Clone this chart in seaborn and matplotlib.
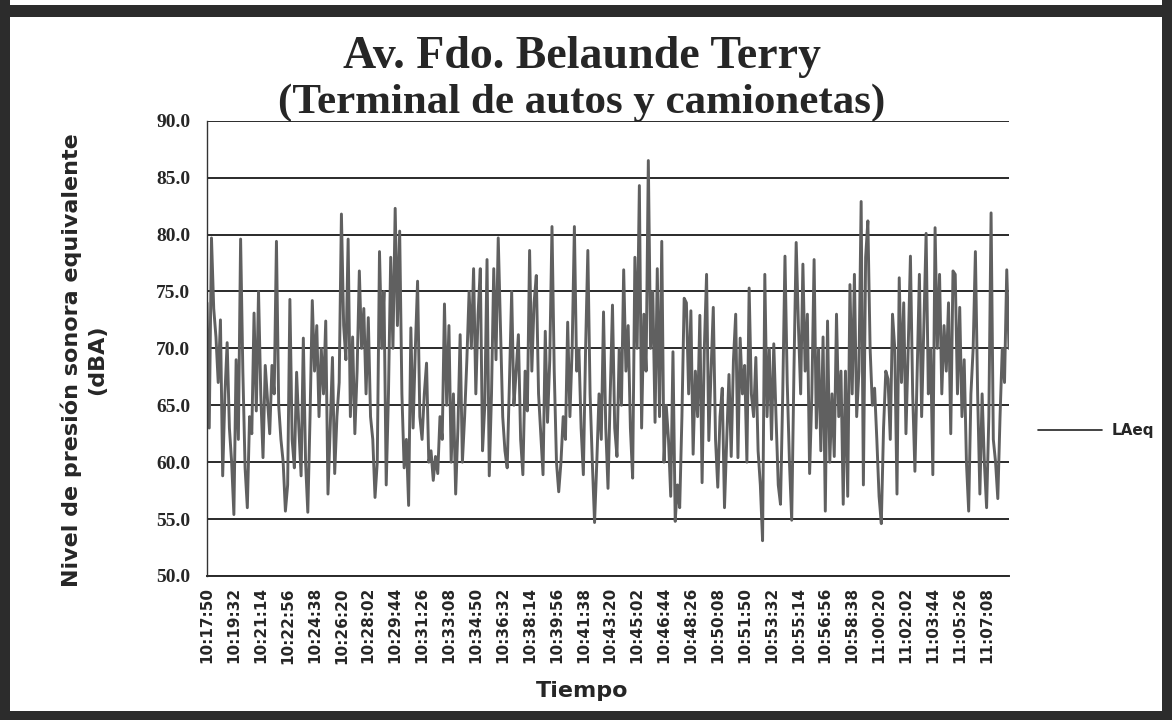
import numpy as np
import pandas as pd
import matplotlib
matplotlib.use("Agg")
import matplotlib.pyplot as plt
from matplotlib.patches import Rectangle
from matplotlib.lines import Line2D
import seaborn as sns

# Equivalent sound pressure level (dBA), one reading every 8.5 s from 10:17:50
level_a = [74, 63, 79.7, 73.5, 71, 67, 72.5, 58.8, 66, 70.5,
           63, 60, 55.4, 69, 62, 79.6, 68, 59.5, 56, 64,
           62.5, 73.1, 64.5, 75, 66, 60.4, 68.5, 65.5, 62.5, 68.5,
           66, 79.4, 65, 62, 60, 55.7, 58, 74.3, 62, 59.5,
           67.9, 63, 58.8, 70.9, 60, 55.6, 64, 74.2, 68, 72,
           64, 70, 66, 72.4, 57.2, 63, 69.2, 59, 64, 67,
           81.8, 72, 69, 79.6, 64, 71, 62.5, 68, 76.8, 70,
           73.5]
level_b = [66, 72.7, 64, 62, 56.9, 60, 78.5, 70, 75, 58,
           66, 78, 70, 82.3, 72, 80.3, 66, 59.5, 62, 56.2,
           71.8, 63, 70, 75.9, 64, 62, 66, 68.7, 60, 61,
           58.4, 60.5, 59, 64, 62, 73.9, 65, 72, 60, 66,
           57.2, 63, 71.2, 60, 64, 69, 75, 70, 77, 66,
           73, 77, 61, 65, 77.8, 58.8, 66, 77, 69, 79.7,
           72, 64, 61, 59.5, 67, 75, 65, 68, 71.2, 62,
           58.9]
level_c = [68, 64.5, 78.6, 68, 74, 76.4, 66, 62.5, 58.9, 71.5,
           63.5, 69, 80.7, 68, 60, 57.4, 60, 64, 62, 72.3,
           64, 70, 80.7, 68, 70, 63, 58.9, 70, 78.6, 66,
           60, 54.7, 60, 66, 62, 73.2, 63, 57.7, 66, 73.8,
           63, 60.5, 70, 65, 76.9, 68, 72, 63, 58.6, 78,
           70, 84.3, 63, 73, 68, 86.5, 70, 75, 63.5, 77,
           64, 79.4, 60, 65, 62, 57, 69.7, 54.8, 58, 56,
           64, 74.4]
level_d = [74, 66, 73.3, 60.7, 68, 64, 72.9, 58.2, 70, 76.5,
           61.9, 68, 73.6, 62, 57.8, 64, 66.5, 56, 62, 67.7,
           60.5, 69, 73, 60.4, 70.9, 66, 68.5, 60, 75.3, 66,
           64, 69.2, 61, 58, 53.1, 76.5, 64, 70, 62, 70.4,
           64, 58, 56.3, 66, 78.1, 67, 60, 54.9, 68, 79.3,
           72, 66, 77.4, 68, 73, 59, 66, 77.8, 63, 70,
           61, 71, 55.7, 72.4, 60, 66, 60.5, 73, 64, 68,
           56.3]
level_e = [68, 57, 75.6, 66, 76.5, 64, 68, 82.9, 58, 78,
           81.2, 70, 65, 66.5, 62, 57, 54.6, 63, 68, 67.3,
           62, 73, 70, 57.2, 76.2, 67, 74, 62.5, 70, 78.1,
           66, 59.2, 68, 76.5, 64, 72, 80.1, 66, 70, 58.9,
           80.6, 70, 76.5, 66, 72, 68, 74, 62.5, 76.8, 76.5,
           66, 73.6, 64, 69, 60, 55.7, 66, 70, 78.5, 66,
           57.2, 66, 60, 56, 64, 81.9, 62, 60, 56.8, 64,
           70, 67, 76.9, 70]

time_labels = ["10:17:50", "10:19:32", "10:21:14", "10:22:56", "10:24:38",
               "10:26:20", "10:28:02", "10:29:44", "10:31:26", "10:33:08",
               "10:34:50", "10:36:32", "10:38:14", "10:39:56", "10:41:38",
               "10:43:20", "10:45:02", "10:46:44", "10:48:26", "10:50:08",
               "10:51:50", "10:53:32", "10:55:14", "10:56:56", "10:58:38",
               "11:00:20", "11:02:02", "11:03:44", "11:05:26", "11:07:08"]
y_ticks = [50.0, 55.0, 60.0, 65.0, 70.0, 75.0, 80.0, 85.0, 90.0]

sample_step = 8.5      # seconds between readings
label_step = 102       # seconds between labelled times

level = level_a + level_b + level_c + level_d + level_e
df = pd.DataFrame({"t": np.arange(len(level)) * sample_step, "LAeq": level})

sns.set_style("white")
plt.rcParams["font.family"] = ["DejaVu Sans"]

W, H = 1172, 720
fig = plt.figure(figsize=(W / 100, H / 100), dpi=100)
fig.patch.set_facecolor("white")

# dark outer frame
frame_c = "#2c2c2c"
for (x0, y0, w, h) in [(0, 0, 10, H), (W - 10, 0, 10, H),
                       (0, H - 17, W, 12), (0, 0, W, 9)]:
    fig.add_artist(Rectangle((x0 / W, y0 / H), w / W, h / H,
                             transform=fig.transFigure, color=frame_c, lw=0))

left, right, top, bottom = 207, 1009, 120.7, 576
ax = fig.add_axes([left / W, 1 - bottom / H, (right - left) / W, (bottom - top) / H])
sns.lineplot(data=df, x="t", y="LAeq", ax=ax, color="#606060", lw=2.1,
             legend=False)

ax.set_ylim(50, 90)
ax.set_xlim(0, df["t"].iloc[-1])
ax.set_yticks(y_ticks)
ax.set_yticklabels([f"{v:.1f}" for v in y_ticks], fontfamily="Liberation Serif",
                   fontweight="bold", fontsize=14)
ax.set_xticks(np.arange(len(time_labels)) * label_step)
ax.set_xticklabels(time_labels, rotation=90, fontweight="bold", fontsize=11)
ax.tick_params(axis="y", length=0, pad=12)
ax.tick_params(axis="x", length=0, pad=8)
ax.set_xlabel("")
ax.set_ylabel("")

ax.yaxis.grid(True, color="#2a2a2a", lw=1.4)
ax.xaxis.grid(False)
ax.set_axisbelow(True)
for s in ["top", "right"]:
    ax.spines[s].set_visible(False)
ax.spines["left"].set_color("#333333")
ax.spines["left"].set_linewidth(1.0)
ax.spines["bottom"].set_color("#2a2a2a")
ax.spines["bottom"].set_linewidth(1.4)

# titles
fig.text(582 / W, 1 - 57 / H, "Av. Fdo. Belaunde Terry", ha="center", va="center",
         fontfamily="Liberation Serif", fontweight="bold", fontsize=33)
fig.text(582 / W, 1 - 103 / H, "(Terminal de autos y camionetas)", ha="center",
         va="center", fontfamily="Liberation Serif", fontweight="bold", fontsize=31)

fig.text(84 / W, 1 - 360 / H, "Nivel de presión sonora equivalente\n(dBA)",
         rotation=90, ha="center", va="center", multialignment="center",
         fontweight="bold", fontsize=16, linespacing=1.35)
fig.text(582 / W, 1 - 691 / H, "Tiempo", ha="center", va="center",
         fontweight="bold", fontsize=16)

handle = Line2D([], [], color="#222222", lw=1.2)
fig.legend([handle], ["LAeq"], loc="center left",
           bbox_to_anchor=(1038 / W, 1 - 431 / H), frameon=False,
           handlelength=4.2, handletextpad=0.6, borderpad=0, borderaxespad=0,
           prop={"weight": "bold", "size": 11})

fig.savefig("out.png", dpi=100, facecolor="white")
